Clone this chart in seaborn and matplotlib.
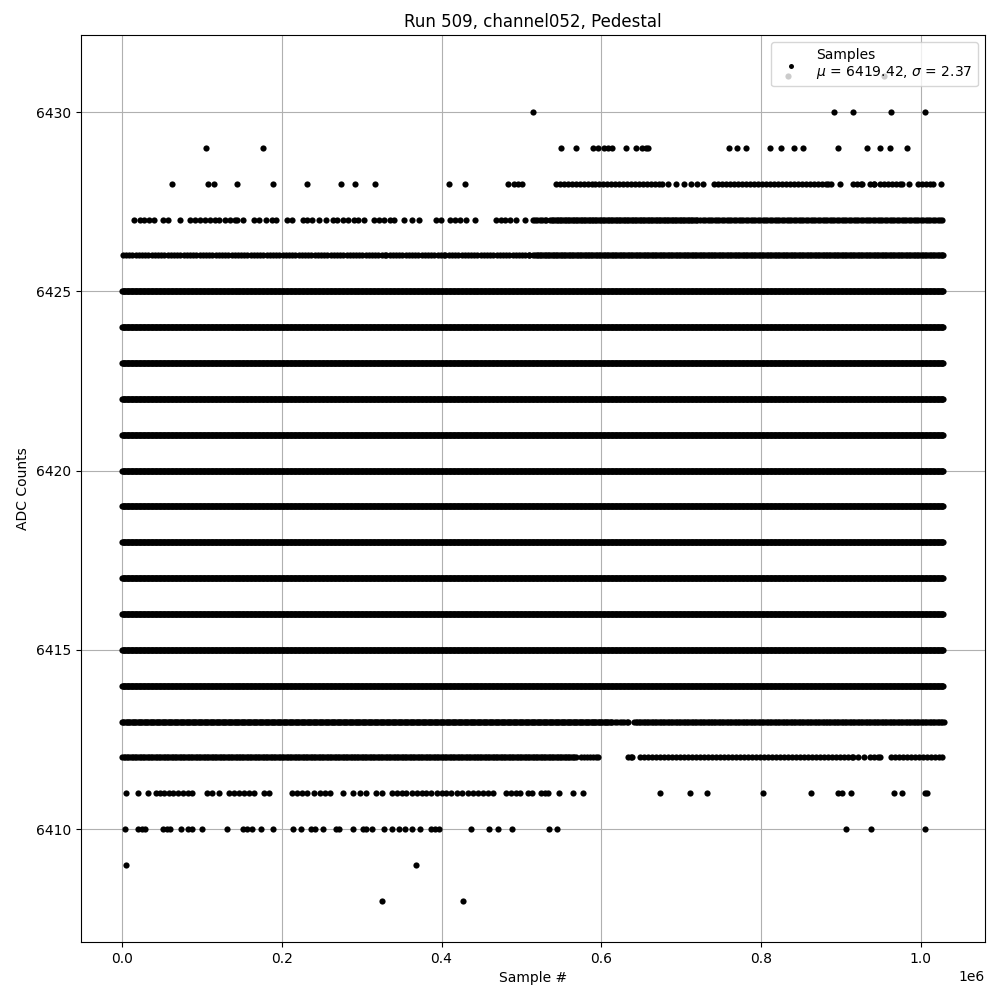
import numpy as np
import pandas as pd
import matplotlib
matplotlib.use('Agg')
import matplotlib.pyplot as plt
import seaborn as sns


title = 'Run 509, channel052, Pedestal'
mean_adc = 6419.42
sigma_adc = 2.37

# isolated readings: sample positions (in 1e6 samples) for each ADC level
sparse_6431 = [0.834, 0.954]
sparse_6430 = [0.515, 0.892, 0.915, 0.963, 1.005]
sparse_6429 = [0.105, 0.176, 0.549, 0.568, 0.590, 0.596, 0.603, 0.609, 0.614, 0.631,
               0.643, 0.651, 0.656, 0.658, 0.760, 0.770, 0.781, 0.811, 0.825, 0.841,
               0.852, 0.896, 0.933, 0.949, 0.961, 0.983]
sparse_6428 = [0.062, 0.107, 0.115, 0.144, 0.189, 0.231, 0.274, 0.291, 0.317, 0.409,
               0.429, 0.483, 0.491, 0.496, 0.501, 0.684, 0.693, 0.704, 0.712, 0.720,
               0.727, 0.888, 0.899, 0.985, 1.025]
sparse_6427 = [0.015, 0.022, 0.028, 0.034, 0.040, 0.051, 0.057, 0.073, 0.085, 0.091,
               0.098, 0.104, 0.110, 0.116, 0.121, 0.129, 0.135, 0.141, 0.144, 0.151,
               0.165, 0.171, 0.180, 0.188, 0.193, 0.207, 0.213, 0.226, 0.232, 0.238,
               0.246, 0.255, 0.264, 0.269, 0.276, 0.283, 0.290, 0.296, 0.303, 0.316,
               0.322, 0.328, 0.335, 0.340, 0.353, 0.363, 0.372, 0.393, 0.399, 0.410,
               0.417, 0.423, 0.430, 0.442, 0.468, 0.474, 0.480, 0.486, 0.493, 0.504]
sparse_6412 = [0.596, 0.921, 0.929]
sparse_6411 = [0.005, 0.020, 0.033, 0.042, 0.047, 0.053, 0.059, 0.064, 0.070, 0.076,
               0.082, 0.087, 0.106, 0.113, 0.121, 0.134, 0.140, 0.146, 0.153, 0.159,
               0.165, 0.178, 0.184, 0.213, 0.219, 0.225, 0.231, 0.240, 0.248, 0.254,
               0.260, 0.276, 0.289, 0.298, 0.305, 0.318, 0.326, 0.338, 0.344, 0.350,
               0.356, 0.363, 0.369, 0.375, 0.381, 0.387, 0.394, 0.400, 0.406, 0.412,
               0.419, 0.425, 0.433, 0.439, 0.446, 0.452, 0.458, 0.464, 0.481, 0.487,
               0.493, 0.498, 0.508, 0.513, 0.525, 0.529, 0.533, 0.547, 0.564, 0.577,
               0.673, 0.711, 0.732, 0.802, 0.863, 0.897, 0.901, 0.913, 0.967, 0.976,
               1.005, 1.008]
sparse_6410 = [0.004, 0.020, 0.025, 0.029, 0.051, 0.056, 0.060, 0.074, 0.083, 0.087,
               0.100, 0.131, 0.151, 0.157, 0.163, 0.174, 0.189, 0.214, 0.224, 0.237,
               0.242, 0.252, 0.268, 0.271, 0.289, 0.302, 0.306, 0.313, 0.328, 0.338,
               0.347, 0.354, 0.363, 0.373, 0.387, 0.392, 0.397, 0.437, 0.459, 0.471,
               0.488, 0.534, 0.544, 0.906, 0.938, 1.005]
sparse_6409 = [0.005, 0.368]
sparse_6408 = [0.326, 0.427]

sparse_levels = [6431, 6430, 6429, 6428, 6427, 6412, 6411, 6410, 6409, 6408]
sparse_samples = [sparse_6431, sparse_6430, sparse_6429, sparse_6428, sparse_6427,
                  sparse_6412, sparse_6411, sparse_6410, sparse_6409, sparse_6408]

# stretches where a level is hit so often the dots merge into a band:
# level, first and last sample (1e6), spacing between drawn samples (1e6)
run_level = [6428, 6428, 6428, 6428, 6428, 6428, 6428,
             6427, 6427, 6427,
             6426, 6426, 6426, 6426,
             6425, 6424, 6423, 6422, 6421, 6420, 6419, 6418, 6417, 6416, 6415, 6414,
             6413, 6413, 6413,
             6412, 6412, 6412, 6412, 6412, 6412]
run_start = [0.543, 0.597, 0.741, 0.915, 0.936, 0.949, 0.996,
             0.514, 0.536, 0.724,
             0.001, 0.335, 0.409, 0.515,
             0.0, 0.0, 0.0, 0.0, 0.0, 0.0, 0.0, 0.0, 0.0, 0.0, 0.0, 0.0,
             0.0, 0.617, 0.641,
             0.0, 0.574, 0.633, 0.649, 0.936, 0.963]
run_stop = [0.592, 0.676, 0.884, 0.926, 0.942, 0.976, 1.015,
            0.531, 0.720, 1.027,
            0.330, 0.404, 0.510, 1.028,
            1.028, 1.028, 1.028, 1.028, 1.028, 1.028, 1.028, 1.028, 1.028, 1.028, 1.028, 1.028,
            0.613, 0.633, 1.029,
            0.568, 0.593, 0.639, 0.915, 0.949, 1.027]
run_step = [0.005, 0.005, 0.005, 0.005, 0.005, 0.005, 0.005,
            0.003, 0.002, 0.003,
            0.004, 0.004, 0.004, 0.002,
            0.001, 0.001, 0.001, 0.001, 0.001, 0.001, 0.001, 0.001, 0.001, 0.001, 0.001, 0.001,
            0.0015, 0.003, 0.002,
            0.002, 0.004, 0.004, 0.005, 0.005, 0.005]


def build_samples():
    frames = []
    for level, xs in zip(sparse_levels, sparse_samples):
        frames.append(pd.DataFrame({'sample': np.array(xs) * 1e6, 'adc': level}))
    for level, start, stop, step in zip(run_level, run_start, run_stop, run_step):
        xs = np.append(np.arange(start, stop, step), stop)
        frames.append(pd.DataFrame({'sample': xs * 1e6, 'adc': level}))
    return pd.concat(frames, ignore_index=True)


def main():
    df = build_samples()

    fig, ax = plt.subplots(figsize=(10, 10), dpi=100)
    label = 'Samples\n' + r'$\mu$ = {:.2f}, $\sigma$ = {:.2f}'.format(mean_adc, sigma_adc)
    sns.scatterplot(data=df, x='sample', y='adc', color='black', s=20,
                    linewidth=0, ax=ax, label=label)
    ax.set_axisbelow(True)
    ax.grid(True)
    ax.set_title(title)
    ax.set_xlabel('Sample #')
    ax.set_ylabel('ADC Counts')
    ax.legend(loc='upper right', markerscale=0.8)
    fig.subplots_adjust(left=0.081, right=0.985, bottom=0.058, top=0.965)
    fig.savefig('out.png', dpi=100)


if __name__ == '__main__':
    main()
